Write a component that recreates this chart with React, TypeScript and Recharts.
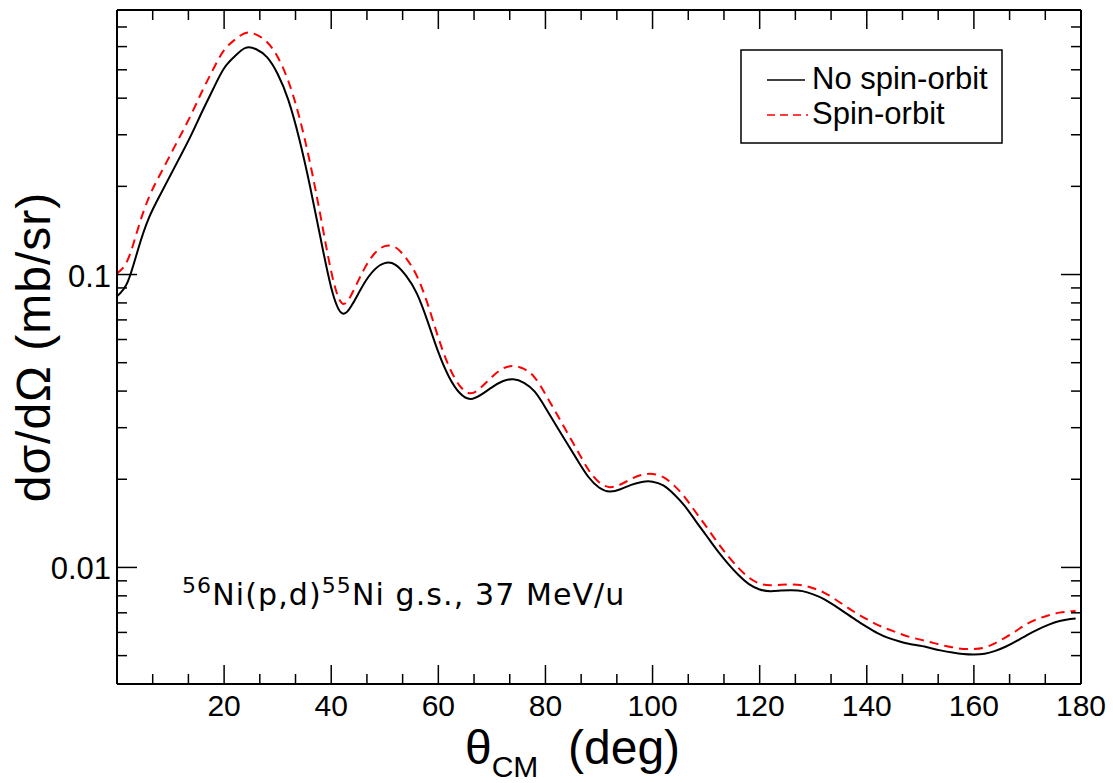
import React from "react";
import { Customized, Line, LineChart, XAxis, YAxis } from "recharts";

// angles (deg, CM)
const theta = [
  0, 2, 4, 6, 8, 10, 12, 14, 16, 18, 20, 22, 24, 26, 28, 30, 32, 34, 36, 38, 40, 42, 44, 46, 48, 50, 52, 54,
  56, 58, 60, 62, 64, 66, 68, 70, 72, 74, 76, 78, 80, 82, 84, 86, 88, 90, 92, 94, 96, 98, 100, 102, 104, 106,
  108, 110, 112, 114, 116, 118, 120, 122, 124, 126, 128, 130, 132, 134, 136, 138, 140, 142, 144, 146, 148,
  150, 152, 154, 156, 158, 160, 162, 164, 166, 168, 170, 172, 174, 176, 178, 179,
];

// dσ/dΩ (mb/sr), no spin-orbit
const noSpinOrbit = [
  0.0843, 0.0944, 0.123, 0.1567, 0.1862, 0.2188, 0.257, 0.3034, 0.363, 0.4315, 0.506, 0.556, 0.594, 0.5875,
  0.552, 0.484, 0.394, 0.292, 0.2018, 0.1334, 0.0902, 0.0738, 0.0794, 0.0923, 0.1035, 0.1094, 0.1079, 0.0989,
  0.0861, 0.0692, 0.0543, 0.0447, 0.0394, 0.0376, 0.0389, 0.0412, 0.0432, 0.0439, 0.0427, 0.0398, 0.0351,
  0.0305, 0.0266, 0.0232, 0.0204, 0.01875, 0.01816, 0.01849, 0.01914, 0.01959, 0.01963, 0.01905, 0.01778,
  0.01622, 0.01445, 0.01288, 0.01148, 0.01035, 0.00944, 0.00877, 0.00841, 0.0083, 0.00834, 0.00836, 0.0083,
  0.00809, 0.0078, 0.00741, 0.007, 0.00661, 0.00627, 0.00597, 0.00575, 0.0056, 0.00548, 0.0054, 0.0053,
  0.0052, 0.00512, 0.00506, 0.00504, 0.00507, 0.00519, 0.00537, 0.00561, 0.00589, 0.00615, 0.00638, 0.00656,
  0.00667, 0.0067,
];

// dσ/dΩ (mb/sr), spin-orbit
const spinOrbit = [
  0.1009, 0.1122, 0.1451, 0.1841, 0.2188, 0.2571, 0.302, 0.3565, 0.4265, 0.5036, 0.5834, 0.633, 0.668, 0.659,
  0.622, 0.553, 0.457, 0.347, 0.2426, 0.1586, 0.1024, 0.0798, 0.087, 0.1031, 0.1175, 0.125, 0.1239, 0.1135,
  0.0988, 0.0794, 0.0609, 0.0485, 0.0417, 0.0393, 0.0412, 0.0447, 0.0477, 0.0487, 0.0476, 0.0445, 0.039,
  0.0337, 0.029, 0.025, 0.0216, 0.01954, 0.0188, 0.01919, 0.02004, 0.02071, 0.02085, 0.02033, 0.01906,
  0.01739, 0.01549, 0.01381, 0.01225, 0.01099, 0.00998, 0.00923, 0.00881, 0.00869, 0.00873, 0.00875, 0.00869,
  0.00849, 0.00821, 0.00781, 0.00738, 0.00699, 0.00666, 0.00637, 0.00615, 0.00596, 0.00579, 0.00567, 0.00555,
  0.00543, 0.00534, 0.00527, 0.00527, 0.00533, 0.00552, 0.00578, 0.00609, 0.00643, 0.00668, 0.00687, 0.00701,
  0.00708, 0.00712,
];

const xMajor = [0, 20, 40, 60, 80, 100, 120, 140, 160, 180];
const yTicks = [
  0.004, 0.005, 0.006, 0.007, 0.008, 0.009, 0.01, 0.02, 0.03, 0.04, 0.05, 0.06, 0.07, 0.08, 0.09, 0.1, 0.2,
  0.3, 0.4, 0.5, 0.6, 0.7, 0.8,
];
const yLabels: Record<string, string> = { "0.01": "0.01", "0.1": "0.1" };

// three subdivisions per major step, ROOT style
const xTicks = xMajor.flatMap((v, i) => (i === xMajor.length - 1 ? [v] : [v, v + 20 / 3, v + 40 / 3]));

const data = theta.map((t, i) => ({ theta: t, noSO: noSpinOrbit[i], so: spinOrbit[i] }));

const SANS = "'Liberation Sans', Arial, Helvetica, sans-serif";
const isMajorX = (v: number) => Math.abs(v / 20 - Math.round(v / 20)) < 1e-6;
const isMajorY = (v: number) => String(v) in yLabels;

const BottomTick = ({ x, y, payload }: any) => {
  const v = payload.value;
  const major = isMajorX(v);
  return (
    <g>
      <line x1={x} x2={x} y1={y} y2={y - (major ? 19 : 10)} stroke="#000" strokeWidth={1.5} />
      {major && v !== 0 && (
        <text x={x} y={y + 32} textAnchor="middle" fontFamily={SANS} fontSize={30} fill="#000">
          {Math.round(v)}
        </text>
      )}
    </g>
  );
};

const TopTick = ({ x, y, payload }: any) => {
  const major = isMajorX(payload.value);
  return <line x1={x} x2={x} y1={y} y2={y + (major ? 19 : 10)} stroke="#000" strokeWidth={1.5} />;
};

const LeftTick = ({ x, y, payload }: any) => {
  const v = payload.value;
  const major = isMajorY(v);
  return (
    <g>
      <line x1={x} x2={x + (major ? 20 : 10)} y1={y} y2={y} stroke="#000" strokeWidth={1.5} />
      {major && (
        <text x={x - 6} y={y + 12} textAnchor="end" fontFamily={SANS} fontSize={31} fill="#000">
          {yLabels[String(v)]}
        </text>
      )}
    </g>
  );
};

const RightTick = ({ x, y, payload }: any) => {
  const major = isMajorY(payload.value);
  return <line x1={x} x2={x - (major ? 20 : 10)} y1={y} y2={y} stroke="#000" strokeWidth={1.5} />;
};

const Decorations = () => (
  <g>
    {/* legend */}
    <rect x={741} y={50} width={261} height={93} fill="#fff" stroke="#000" strokeWidth={1.5} />
    <line x1={767} x2={805} y1={80} y2={80} stroke="#000" strokeWidth={1.5} />
    <line x1={767} x2={808} y1={115} y2={115} stroke="#ff0000" strokeWidth={1.5} strokeDasharray="8 5" />
    <text x={812} y={89} fontFamily={SANS} fontSize={31} fill="#000">
      No spin-orbit
    </text>
    <text x={812} y={124} fontFamily={SANS} fontSize={31} fill="#000">
      Spin-orbit
    </text>

    {/* reaction label */}
    <text
      x={182}
      y={605}
      fontFamily="'DejaVu Sans', Verdana, sans-serif"
      fontSize={30}
      letterSpacing={1.1}
      fill="#000"
    >
      <tspan fontSize={22} dy={-12}>56</tspan>
      <tspan dy={12}>Ni(p,d)</tspan>
      <tspan fontSize={22} dy={-12}>55</tspan>
      <tspan dy={12}>Ni g.s., 37 MeV/u</tspan>
    </text>

    {/* axis titles */}
    <text x={465} y={764} fontFamily={SANS} fontSize={48} fill="#000">
      θ
      <tspan fontSize={30} dy={13}>CM</tspan>
      <tspan x={568} dy={-13}>(deg)</tspan>
    </text>
    <text
      x={50}
      y={347}
      transform="rotate(-90 50 347)"
      textAnchor="middle"
      fontFamily={SANS}
      fontSize={48}
      letterSpacing={1}
      fill="#000"
    >
      dσ/dΩ (mb/sr)
    </text>
  </g>
);

export default function App() {
  return (
    <div style={{ position: "absolute", left: 0, top: 0, background: "#fff" }}>
      <LineChart width={1113} height={783} data={data} margin={{ top: 0, right: 0, bottom: 0, left: 0 }}>
        <XAxis
          dataKey="theta"
          type="number"
          domain={[0, 180]}
          ticks={xTicks}
          interval={0}
          allowDataOverflow
          height={99}
          tickSize={0}
          tickMargin={0}
          tick={<BottomTick />}
          axisLine={{ stroke: "#000", strokeWidth: 2 }}
        />
        <XAxis
          xAxisId="top"
          orientation="top"
          dataKey="theta"
          type="number"
          domain={[0, 180]}
          ticks={xTicks}
          interval={0}
          allowDataOverflow
          height={10}
          tickSize={0}
          tickMargin={0}
          tick={<TopTick />}
          axisLine={{ stroke: "#000", strokeWidth: 2 }}
        />
        <YAxis
          type="number"
          scale="log"
          domain={[0.004, 0.8]}
          ticks={yTicks}
          interval={0}
          allowDataOverflow
          width={117}
          tickSize={0}
          tickMargin={0}
          tick={<LeftTick />}
          axisLine={{ stroke: "#000", strokeWidth: 2 }}
        />
        <YAxis
          yAxisId="right"
          orientation="right"
          type="number"
          scale="log"
          domain={[0.004, 0.8]}
          ticks={yTicks}
          interval={0}
          allowDataOverflow
          width={32}
          tickSize={0}
          tickMargin={0}
          tick={<RightTick />}
          axisLine={{ stroke: "#000", strokeWidth: 2 }}
        />
        <Line
          dataKey="noSO"
          type="natural"
          stroke="#000"
          strokeWidth={2}
          dot={false}
          isAnimationActive={false}
        />
        <Line
          dataKey="so"
          type="natural"
          stroke="#ff0000"
          strokeWidth={2}
          strokeDasharray="9 6"
          dot={false}
          isAnimationActive={false}
        />
        <Customized component={Decorations} />
      </LineChart>
    </div>
  );
}
